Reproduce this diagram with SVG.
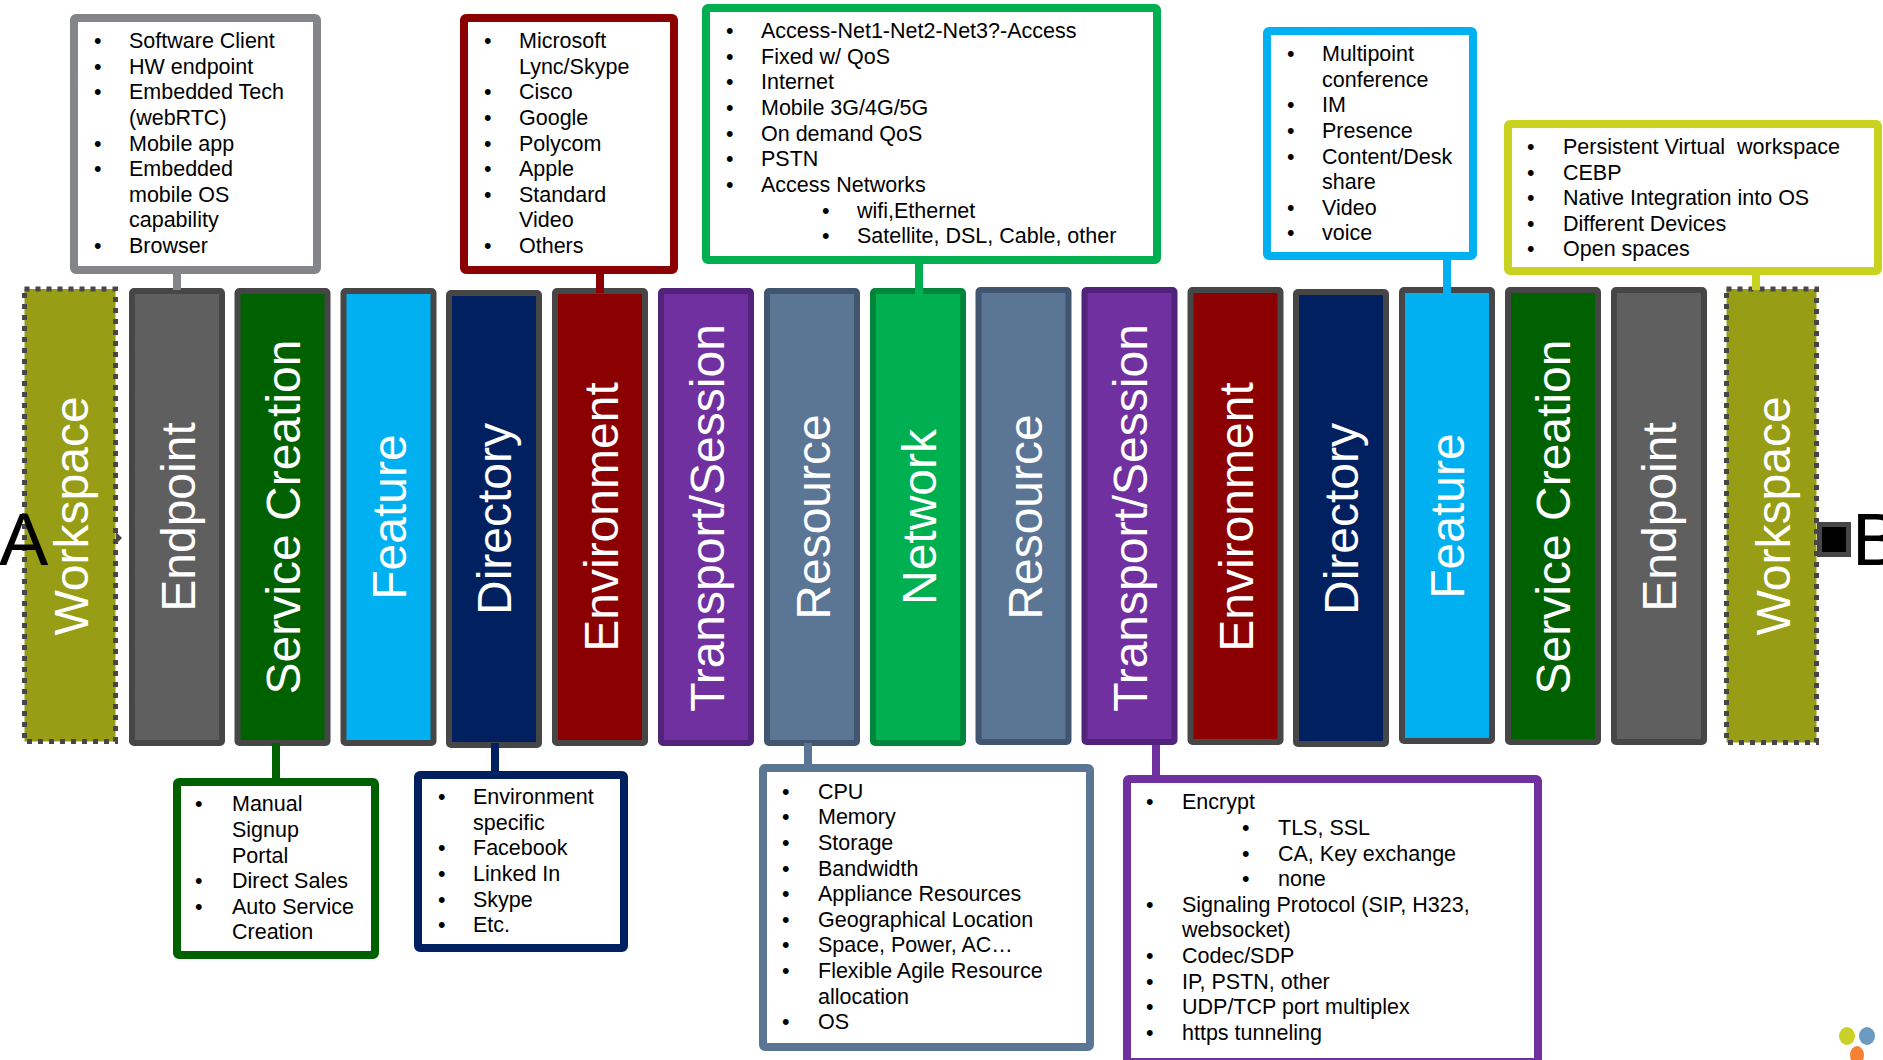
<svg xmlns="http://www.w3.org/2000/svg" width="1883" height="1060" viewBox="0 0 1883 1060">
<style>
text{font-family:"Liberation Sans",Arial,sans-serif}
.t{font-size:21.5px;fill:#000}
.v{font-size:48px;fill:#fff;text-anchor:middle}
.c{stroke:#464646;stroke-width:6}
.b{fill:#fff;stroke-width:8}
.big{font-size:74px;fill:#000}
</style>
<rect width="1883" height="1060" fill="#fff"/>
<g id="n-workspace-a"><rect x="24.5" y="289" width="91" height="452.5" fill="#979D14" stroke="#464646" stroke-width="5" stroke-dasharray="5 6"/><text class="v" transform="translate(88 516) rotate(-90)">Workspace</text></g>
<g id="n-endpoint-a"><rect class="c" x="132" y="291" width="90" height="452" rx="2" fill="#5F5F5F"/><text class="v" transform="translate(195 517) rotate(-90)">Endpoint</text></g>
<g id="n-service-a"><rect class="c" x="237.5" y="291" width="90" height="452" rx="2" fill="#006100"/><text class="v" transform="translate(300 517) rotate(-90)">Service Creation</text></g>
<g id="n-feature-a"><rect class="c" x="343.5" y="291" width="90" height="452" rx="2" fill="#00B0F0"/><text class="v" transform="translate(406 517) rotate(-90)">Feature</text></g>
<g id="n-directory-a"><rect class="c" x="449" y="293" width="90" height="452" rx="2" fill="#002060"/><text class="v" transform="translate(511 519) rotate(-90)">Directory</text></g>
<g id="n-environment-a"><rect class="c" x="555" y="291" width="90" height="452" rx="2" fill="#8B0000"/><text class="v" transform="translate(618 517) rotate(-90)">Environment</text></g>
<g id="n-transport-a"><rect x="661" y="291" width="90" height="452" rx="2" fill="#7030A0" stroke="#52237A" stroke-width="6"/><text class="v" transform="translate(724 518) rotate(-90)">Transport/Session</text></g>
<g id="n-resource-a"><rect x="767" y="291" width="90" height="452" rx="2" fill="#5B7595" stroke="#41556F" stroke-width="6"/><text class="v" transform="translate(830 517) rotate(-90)">Resource</text></g>
<g id="n-network"><rect x="873" y="291" width="90" height="452" rx="2" fill="#00B050" stroke="#00863B" stroke-width="6"/><text class="v" transform="translate(936 517) rotate(-90)">Network</text></g>
<g id="n-resource-b"><rect x="978.5" y="290" width="90" height="452" rx="2" fill="#5B7595" stroke="#41556F" stroke-width="6"/><text class="v" transform="translate(1042 517) rotate(-90)">Resource</text></g>
<g id="n-transport-b"><rect x="1084.5" y="290" width="90" height="452" rx="2" fill="#7030A0" stroke="#52237A" stroke-width="6"/><text class="v" transform="translate(1147 518) rotate(-90)">Transport/Session</text></g>
<g id="n-environment-b"><rect class="c" x="1190.5" y="290" width="90" height="452" rx="2" fill="#8B0000"/><text class="v" transform="translate(1253 517) rotate(-90)">Environment</text></g>
<g id="n-directory-b"><rect class="c" x="1296" y="292" width="90" height="452" rx="2" fill="#002060"/><text class="v" transform="translate(1358 519) rotate(-90)">Directory</text></g>
<g id="n-feature-b"><rect class="c" x="1402" y="290" width="90" height="451" rx="2" fill="#00B0F0"/><text class="v" transform="translate(1464 516) rotate(-90)">Feature</text></g>
<g id="n-service-b"><rect class="c" x="1508" y="290" width="90" height="452" rx="2" fill="#006100"/><text class="v" transform="translate(1570 517) rotate(-90)">Service Creation</text></g>
<g id="n-endpoint-b"><rect class="c" x="1614" y="290" width="90" height="452" rx="2" fill="#5F5F5F"/><text class="v" transform="translate(1676 517) rotate(-90)">Endpoint</text></g>
<g id="n-workspace-b"><rect x="1726.5" y="289" width="90" height="453.5" fill="#979D14" stroke="#464646" stroke-width="5" stroke-dasharray="5 6"/><text class="v" transform="translate(1790 516) rotate(-90)">Workspace</text></g>
<g id="n-a"><text class="big" x="-1" y="565">A</text></g>
<g id="n-b"><rect x="1819.5" y="524.5" width="29" height="30" fill="#000" stroke="#464646" stroke-width="5"/><text class="big" x="1852" y="565">B</text></g>

<g id="n-box-endpoint"><rect class="b" x="74" y="18" width="243" height="252" rx="2" stroke="#848589"/>
<text class="t"><tspan x="94" y="48">•</tspan><tspan x="94" y="74">•</tspan><tspan x="94" y="99">•</tspan><tspan x="94" y="151">•</tspan><tspan x="94" y="176">•</tspan><tspan x="94" y="253">•</tspan></text>
<text class="t"><tspan x="129" y="48">Software Client</tspan><tspan x="129" y="74">HW endpoint</tspan><tspan x="129" y="99">Embedded Tech</tspan><tspan x="129" y="125">(webRTC)</tspan><tspan x="129" y="151">Mobile app</tspan><tspan x="129" y="176">Embedded</tspan><tspan x="129" y="202">mobile OS</tspan><tspan x="129" y="227">capability</tspan><tspan x="129" y="253">Browser</tspan></text></g>

<g id="n-box-environment"><rect class="b" x="464" y="18" width="210" height="252" rx="2" stroke="#8B0000"/>
<text class="t"><tspan x="484" y="48">•</tspan><tspan x="484" y="99">•</tspan><tspan x="484" y="125">•</tspan><tspan x="484" y="151">•</tspan><tspan x="484" y="176">•</tspan><tspan x="484" y="202">•</tspan><tspan x="484" y="253">•</tspan></text>
<text class="t"><tspan x="519" y="48">Microsoft</tspan><tspan x="519" y="74">Lync/Skype</tspan><tspan x="519" y="99">Cisco</tspan><tspan x="519" y="125">Google</tspan><tspan x="519" y="151">Polycom</tspan><tspan x="519" y="176">Apple</tspan><tspan x="519" y="202">Standard</tspan><tspan x="519" y="227">Video</tspan><tspan x="519" y="253">Others</tspan></text></g>

<g id="n-box-network"><rect class="b" x="706" y="8" width="451" height="252" rx="2" stroke="#00B050"/>
<text class="t"><tspan x="726" y="38">•</tspan><tspan x="726" y="64">•</tspan><tspan x="726" y="89">•</tspan><tspan x="726" y="115">•</tspan><tspan x="726" y="141">•</tspan><tspan x="726" y="166">•</tspan><tspan x="726" y="192">•</tspan><tspan x="822" y="218">•</tspan><tspan x="822" y="243">•</tspan></text>
<text class="t"><tspan x="761" y="38">Access-Net1-Net2-Net3?-Access</tspan><tspan x="761" y="64">Fixed w/ QoS</tspan><tspan x="761" y="89">Internet</tspan><tspan x="761" y="115">Mobile 3G/4G/5G</tspan><tspan x="761" y="141">On demand QoS</tspan><tspan x="761" y="166">PSTN</tspan><tspan x="761" y="192">Access Networks</tspan><tspan x="857" y="218">wifi,Ethernet</tspan><tspan x="857" y="243">Satellite, DSL, Cable, other</tspan></text></g>

<g id="n-box-feature"><rect class="b" x="1267" y="31" width="206" height="225" rx="2" stroke="#00B0F0"/>
<text class="t"><tspan x="1287" y="61">•</tspan><tspan x="1287" y="112">•</tspan><tspan x="1287" y="138">•</tspan><tspan x="1287" y="164">•</tspan><tspan x="1287" y="215">•</tspan><tspan x="1287" y="240">•</tspan></text>
<text class="t"><tspan x="1322" y="61">Multipoint</tspan><tspan x="1322" y="87">conference</tspan><tspan x="1322" y="112">IM</tspan><tspan x="1322" y="138">Presence</tspan><tspan x="1322" y="164">Content/Desk</tspan><tspan x="1322" y="189">share</tspan><tspan x="1322" y="215">Video</tspan><tspan x="1322" y="240">voice</tspan></text></g>

<g id="n-box-workspace"><rect class="b" x="1508" y="124" width="370" height="147" rx="2" stroke="#C9D21E"/>
<text class="t"><tspan x="1527" y="154">•</tspan><tspan x="1527" y="180">•</tspan><tspan x="1527" y="205">•</tspan><tspan x="1527" y="231">•</tspan><tspan x="1527" y="256">•</tspan></text>
<text class="t"><tspan x="1563" y="154" xml:space="preserve">Persistent Virtual  workspace</tspan><tspan x="1563" y="180">CEBP</tspan><tspan x="1563" y="205">Native Integration into OS</tspan><tspan x="1563" y="231">Different Devices</tspan><tspan x="1563" y="256">Open spaces</tspan></text></g>

<g id="n-box-service"><rect class="b" x="177" y="782" width="198" height="173" rx="2" stroke="#006100"/>
<text class="t"><tspan x="195" y="811">•</tspan><tspan x="195" y="888">•</tspan><tspan x="195" y="914">•</tspan></text>
<text class="t"><tspan x="232" y="811">Manual</tspan><tspan x="232" y="837">Signup</tspan><tspan x="232" y="863">Portal</tspan><tspan x="232" y="888">Direct Sales</tspan><tspan x="232" y="914">Auto Service</tspan><tspan x="232" y="939">Creation</tspan></text></g>

<g id="n-box-directory"><rect class="b" x="418" y="775" width="206" height="173" rx="2" stroke="#002060"/>
<text class="t"><tspan x="438" y="804">•</tspan><tspan x="438" y="855">•</tspan><tspan x="438" y="881">•</tspan><tspan x="438" y="907">•</tspan><tspan x="438" y="932">•</tspan></text>
<text class="t"><tspan x="473" y="804">Environment</tspan><tspan x="473" y="830">specific</tspan><tspan x="473" y="855">Facebook</tspan><tspan x="473" y="881">Linked In</tspan><tspan x="473" y="907">Skype</tspan><tspan x="473" y="932">Etc.</tspan></text></g>

<g id="n-box-resource"><rect class="b" x="763" y="768" width="327" height="279" rx="2" stroke="#5B7595"/>
<text class="t"><tspan x="782" y="799">•</tspan><tspan x="782" y="824">•</tspan><tspan x="782" y="850">•</tspan><tspan x="782" y="876">•</tspan><tspan x="782" y="901">•</tspan><tspan x="782" y="927">•</tspan><tspan x="782" y="952">•</tspan><tspan x="782" y="978">•</tspan><tspan x="782" y="1029">•</tspan></text>
<text class="t"><tspan x="818" y="799">CPU</tspan><tspan x="818" y="824">Memory</tspan><tspan x="818" y="850">Storage</tspan><tspan x="818" y="876">Bandwidth</tspan><tspan x="818" y="901">Appliance Resources</tspan><tspan x="818" y="927">Geographical Location</tspan><tspan x="818" y="952">Space, Power, AC…</tspan><tspan x="818" y="978">Flexible Agile Resource</tspan><tspan x="818" y="1004">allocation</tspan><tspan x="818" y="1029">OS</tspan></text></g>

<g id="n-box-transport"><rect class="b" x="1127" y="779" width="411" height="283" rx="2" stroke="#7030A0"/>
<text class="t"><tspan x="1146" y="809">•</tspan><tspan x="1242" y="835">•</tspan><tspan x="1242" y="861">•</tspan><tspan x="1242" y="886">•</tspan><tspan x="1146" y="912">•</tspan><tspan x="1146" y="963">•</tspan><tspan x="1146" y="989">•</tspan><tspan x="1146" y="1014">•</tspan><tspan x="1146" y="1040">•</tspan></text>
<text class="t"><tspan x="1182" y="809">Encrypt</tspan><tspan x="1278" y="835">TLS, SSL</tspan><tspan x="1278" y="861">CA, Key exchange</tspan><tspan x="1278" y="886">none</tspan><tspan x="1182" y="912">Signaling Protocol (SIP, H323,</tspan><tspan x="1182" y="937">websocket)</tspan><tspan x="1182" y="963">Codec/SDP</tspan><tspan x="1182" y="989">IP, PSTN, other</tspan><tspan x="1182" y="1014">UDP/TCP port multiplex</tspan><tspan x="1182" y="1040">https tunneling</tspan></text></g>

<g id="connectors" fill="none" stroke-width="8">
<path d="M177 270V290" stroke="#848589"/>
<path d="M600 266V293" stroke="#8B0000"/>
<path d="M919 260V294" stroke="#00B050"/>
<path d="M1447 258V294" stroke="#00B0F0"/>
<path d="M1756 272V290" stroke="#C9D21E"/>
<path d="M276 743V780" stroke="#006100"/>
<path d="M495 743V774" stroke="#002060"/>
<path d="M808 743V766" stroke="#5B7595"/>
<path d="M1156 745V776" stroke="#7030A0"/>
<path d="M116 532L122 538L116 544Z" fill="#464646" stroke="none"/>
</g>
<g id="logo"><ellipse cx="1847" cy="1036" rx="8" ry="9" fill="#C9D127"/><ellipse cx="1867" cy="1036" rx="8" ry="9" fill="#6B9BC0"/><ellipse cx="1857" cy="1055" rx="7" ry="9" fill="#F58233"/></g>
</svg>
